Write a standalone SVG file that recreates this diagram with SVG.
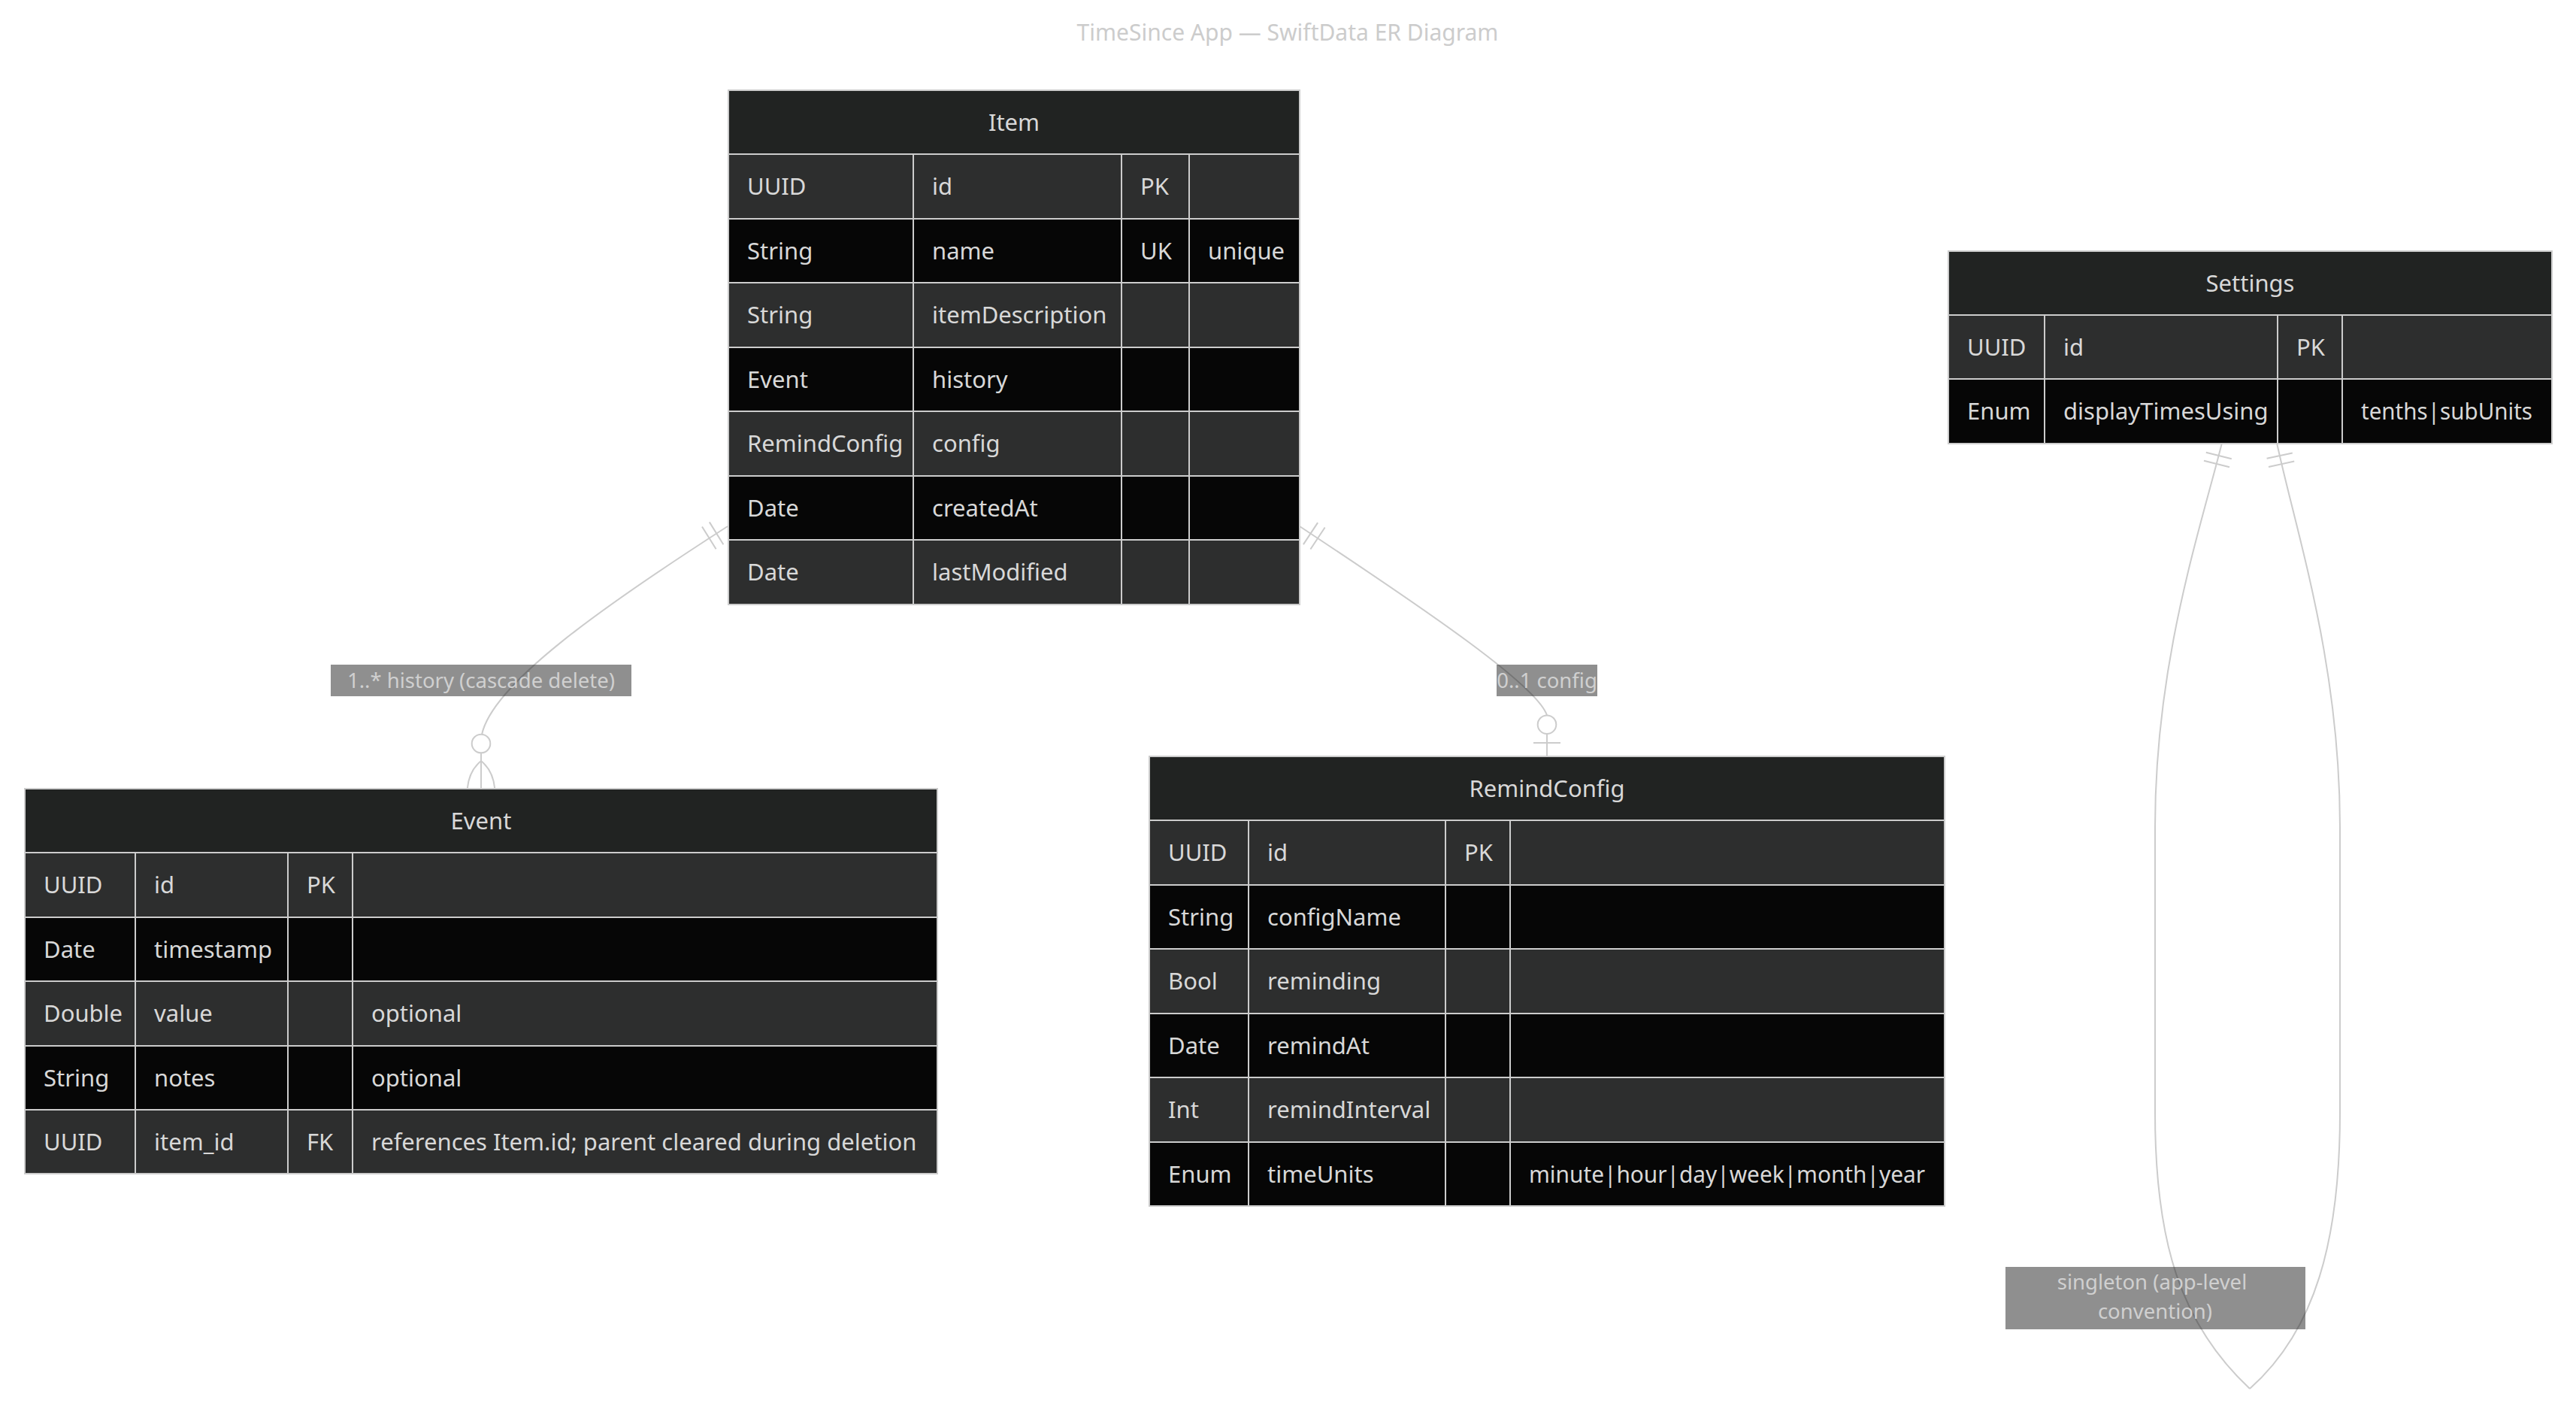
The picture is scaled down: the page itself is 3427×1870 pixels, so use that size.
<svg xmlns="http://www.w3.org/2000/svg" width="3427" height="1870" viewBox="0 0 3427 1870">
<style>
.bg{fill:#ffffff}
.hdr{fill:#212322}
.odd{fill:#2d2e2e}
.even{fill:#060606}
.grid{stroke:#cccccc;stroke-width:2;fill:none}
.t{font-family:"Noto Sans","Liberation Sans",sans-serif;font-size:31px;fill:#d8d8d8}
.h{text-anchor:middle}
.edge{fill:none;stroke:#cccccc;stroke-width:2}
.mk{fill:#ffffff;stroke:#cccccc;stroke-width:2}
.lblbox{fill:#1f1f1f;opacity:0.5}
.lbl{font-family:"Noto Sans","Liberation Sans",sans-serif;font-size:27.5px;fill:#d0d0d0;text-anchor:middle}
.title{font-family:"Noto Sans","Liberation Sans",sans-serif;font-size:30px;fill:#cccccc;text-anchor:middle}
</style>
<rect class="bg" x="0" y="0" width="3427" height="1870"/>
<text class="title" x="1713" y="54">TimeSince App — SwiftData ER Diagram</text>

<g id="connectors">
  <!-- Item -> Event -->
  <path class="edge" d="M968,700 C800,808 655,910 641,977"/>
  <path class="edge" d="M943.8,694.4 L962.4,724.2 M934,700.5 L952.6,730.3"/>
  <circle class="mk" cx="640" cy="989" r="12.3"/>
  <path class="edge" d="M640,1001.3 L640,1049 M640,1012 Q624,1025 621.7,1049 M640,1012 Q656,1025 658.3,1049"/>
  <!-- Item -> RemindConfig -->
  <path class="edge" d="M1729,700 C1900,813 2045,912 2058,951.4"/>
  <path class="edge" d="M1733.9,724.1 L1753.1,695.1 M1743.4,730.5 L1762.6,701.5"/>
  <circle class="mk" cx="2058" cy="963.7" r="12.3"/>
  <path class="edge" d="M2058,976 L2058,1006 M2040,988 L2076,988"/>
  <!-- Settings self loop -->
  <path class="edge" d="M2956,589 C2927,705 2867,880 2867,1100 L2867,1480 C2867,1650 2900,1760 2993,1847"/>
  <path class="edge" d="M3029,589 C3054,706 3113,880 3113,1100 L3113,1480 C3113,1650 3080,1770 2993,1847"/>
  <path class="edge" d="M2934.8,601.8 L2968.8,610.2 M2932,612.8 L2966,621.2"/>
  <path class="edge" d="M3015.6,609.8 L3049.8,602.4 M3018,621 L3052.2,613.6"/>
</g>

<g id="edge-labels">
  <rect class="lblbox" x="440" y="884" width="400" height="42"/>
  <text class="lbl" x="640" y="915">1..* history (cascade delete)</text>
  <rect class="lblbox" x="1991" y="884" width="134" height="42"/>
  <text class="lbl" x="2058" y="915">0..1 config</text>
  <rect class="lblbox" x="2668" y="1685" width="399" height="83"/>
  <text class="lbl" x="2863" y="1715">singleton (app-level</text>
  <text class="lbl" x="2867" y="1754">convention)</text>
</g>

<g id="entity-Item">
  <rect class="hdr" x="969" y="120" width="760" height="85"/>
  <rect class="odd" x="969" y="205" width="760" height="86"/>
  <rect class="even" x="969" y="291" width="760" height="85"/>
  <rect class="odd" x="969" y="376" width="760" height="86"/>
  <rect class="even" x="969" y="462" width="760" height="85"/>
  <rect class="odd" x="969" y="547" width="760" height="86"/>
  <rect class="even" x="969" y="633" width="760" height="85"/>
  <rect class="odd" x="969" y="718" width="760" height="86"/>
  <rect class="grid" x="969" y="120" width="760" height="684"/>
  <path class="grid" d="M969,205H1729M969,291H1729M969,376H1729M969,462H1729M969,547H1729M969,633H1729M969,718H1729M1215,205V804M1492,205V804M1582,205V804"/>
  <text class="t h" x="1349" y="173.5">Item</text>
  <text class="t" x="994" y="259">UUID</text><text class="t" x="1240" y="259">id</text><text class="t" x="1517" y="259">PK</text>
  <text class="t" x="994" y="344.5">String</text><text class="t" x="1240" y="344.5">name</text><text class="t" x="1517" y="344.5">UK</text><text class="t" x="1607" y="344.5">unique</text>
  <text class="t" x="994" y="430">String</text><text class="t" x="1240" y="430">itemDescription</text>
  <text class="t" x="994" y="515.5">Event</text><text class="t" x="1240" y="515.5">history</text>
  <text class="t" x="994" y="601">RemindConfig</text><text class="t" x="1240" y="601">config</text>
  <text class="t" x="994" y="686.5">Date</text><text class="t" x="1240" y="686.5">createdAt</text>
  <text class="t" x="994" y="772">Date</text><text class="t" x="1240" y="772">lastModified</text>
</g>

<g id="entity-Event">
  <rect class="hdr" x="33" y="1049" width="1214" height="85"/>
  <rect class="odd" x="33" y="1134" width="1214" height="86"/>
  <rect class="even" x="33" y="1220" width="1214" height="85"/>
  <rect class="odd" x="33" y="1305" width="1214" height="86"/>
  <rect class="even" x="33" y="1391" width="1214" height="85"/>
  <rect class="odd" x="33" y="1476" width="1214" height="85"/>
  <rect class="grid" x="33" y="1049" width="1214" height="512"/>
  <path class="grid" d="M33,1134H1247M33,1220H1247M33,1305H1247M33,1391H1247M33,1476H1247M180,1134V1561M383,1134V1561M469,1134V1561"/>
  <text class="t h" x="640" y="1102.5">Event</text>
  <text class="t" x="58" y="1188">UUID</text><text class="t" x="205" y="1188">id</text><text class="t" x="408" y="1188">PK</text>
  <text class="t" x="58" y="1273.5">Date</text><text class="t" x="205" y="1273.5">timestamp</text>
  <text class="t" x="58" y="1359">Double</text><text class="t" x="205" y="1359">value</text><text class="t" x="494" y="1359">optional</text>
  <text class="t" x="58" y="1444.5">String</text><text class="t" x="205" y="1444.5">notes</text><text class="t" x="494" y="1444.5">optional</text>
  <text class="t" x="58" y="1529.5">UUID</text><text class="t" x="205" y="1529.5">item_id</text><text class="t" x="408" y="1529.5">FK</text><text class="t" x="494" y="1529.5">references Item.id; parent cleared during deletion</text>
</g>

<g id="entity-RemindConfig">
  <rect class="hdr" x="1529" y="1006" width="1058" height="85"/>
  <rect class="odd" x="1529" y="1091" width="1058" height="86"/>
  <rect class="even" x="1529" y="1177" width="1058" height="85"/>
  <rect class="odd" x="1529" y="1262" width="1058" height="86"/>
  <rect class="even" x="1529" y="1348" width="1058" height="85"/>
  <rect class="odd" x="1529" y="1433" width="1058" height="86"/>
  <rect class="even" x="1529" y="1519" width="1058" height="85"/>
  <rect class="grid" x="1529" y="1006" width="1058" height="598"/>
  <path class="grid" d="M1529,1091H2587M1529,1177H2587M1529,1262H2587M1529,1348H2587M1529,1433H2587M1529,1519H2587M1661,1091V1604M1923,1091V1604M2009,1091V1604"/>
  <text class="t h" x="2058" y="1059.5">RemindConfig</text>
  <text class="t" x="1554" y="1145">UUID</text><text class="t" x="1686" y="1145">id</text><text class="t" x="1948" y="1145">PK</text>
  <text class="t" x="1554" y="1230.5">String</text><text class="t" x="1686" y="1230.5">configName</text>
  <text class="t" x="1554" y="1316">Bool</text><text class="t" x="1686" y="1316">reminding</text>
  <text class="t" x="1554" y="1401.5">Date</text><text class="t" x="1686" y="1401.5">remindAt</text>
  <text class="t" x="1554" y="1487">Int</text><text class="t" x="1686" y="1487">remindInterval</text>
  <text class="t" x="1554" y="1572.5">Enum</text><text class="t" x="1686" y="1572.5">timeUnits</text><text class="t" x="2034" y="1572.5" textLength="527" lengthAdjust="spacingAndGlyphs">minute|hour|day|week|month|year</text>
</g>

<g id="entity-Settings">
  <rect class="hdr" x="2592" y="334" width="803" height="85"/>
  <rect class="odd" x="2592" y="419" width="803" height="85"/>
  <rect class="even" x="2592" y="504" width="803" height="86"/>
  <rect class="grid" x="2592" y="334" width="803" height="256"/>
  <path class="grid" d="M2592,419H3395M2592,504H3395M2720,419V590M3030,419V590M3116,419V590"/>
  <text class="t h" x="2993.5" y="387.5">Settings</text>
  <text class="t" x="2617" y="472.5">UUID</text><text class="t" x="2745" y="472.5">id</text><text class="t" x="3055" y="472.5">PK</text>
  <text class="t" x="2617" y="558">Enum</text><text class="t" x="2745" y="558">displayTimesUsing</text><text class="t" x="3141" y="558" textLength="228" lengthAdjust="spacingAndGlyphs">tenths|subUnits</text>
</g>
</svg>
